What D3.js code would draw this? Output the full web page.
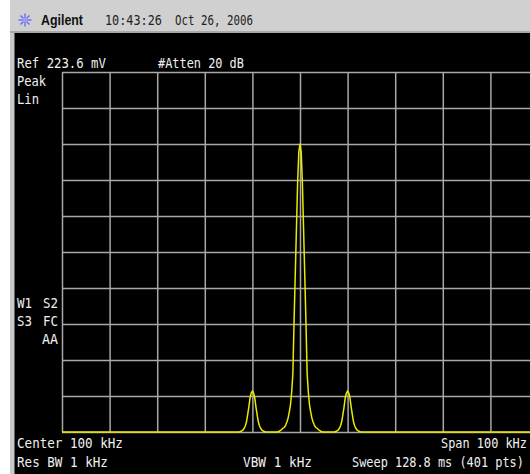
<!DOCTYPE html>
<html>
<head>
<meta charset="utf-8">
<script src="https://cdn.jsdelivr.net/npm/d3@7"></script>
<style>
  html, body { margin: 0; padding: 0; background: #000; overflow: hidden; }
  svg { display: block; }
  .mono { font-family: "DejaVu Sans Mono", "Liberation Mono", monospace; }
</style>
</head>
<body>
<svg id="screen" width="530" height="474"></svg>
<script>
// Spectrum analyzer settings
const refLevelMv = 223.6;
const startKHz = 50;
const stopKHz = 150;

// Graticule: 10 x 10 divisions
const freqGridKHz = [50, 60, 70, 80, 90, 100, 110, 120, 130, 140, 150];
const levelGridMv = [0, 22.36, 44.72, 67.08, 89.44, 111.8, 134.16, 156.52, 178.88, 201.24, 223.6];

// Swept trace (kHz, mV): carrier at 100 kHz with sidebands at 90 / 110 kHz
const sweepFreqKHz = [
  50, 87.25,
  87.5, 87.75, 88, 88.25, 88.5, 88.75, 89, 89.25, 89.5, 89.75, 90,
  90.25, 90.5, 90.75, 91, 91.25, 91.5, 91.75, 92, 92.25, 92.5, 92.75,
  95.25,
  95.5, 95.75, 96, 96.25, 96.5, 96.75, 97, 97.25, 97.5, 97.75, 98, 98.25, 98.5, 98.75, 99, 99.25, 99.5, 99.75, 100,
  100.25, 100.5, 100.75, 101, 101.25, 101.5, 101.75, 102, 102.25, 102.5, 102.75, 103, 103.25, 103.5, 103.75, 104, 104.25, 104.5, 104.75,
  107.25,
  107.5, 107.75, 108, 108.25, 108.5, 108.75, 109, 109.25, 109.5, 109.75, 110,
  110.25, 110.5, 110.75, 111, 111.25, 111.5, 111.75, 112, 112.25, 112.5, 112.75,
  150
];
const sweepLevelMv = [
  0, 0,
  0.3, 0.6, 1.2, 2.2, 3.7, 6.2, 10.6, 15.5, 21.1, 24.2, 25.5,
  24.2, 21.1, 15.5, 10.6, 6.2, 3.7, 2.2, 1.2, 0.6, 0.3, 0,
  0,
  0.3, 0.6, 1.2, 1.9, 2.5, 3.1, 4.3, 6.2, 8.7, 12.4, 16.8, 24.8, 36.0, 68.3, 97.5, 126.1, 154.7, 173.9, 178.9,
  173.9, 154.7, 126.1, 97.5, 68.3, 36.0, 24.8, 16.8, 12.4, 8.7, 6.2, 4.3, 3.1, 2.5, 1.9, 1.2, 0.6, 0.3, 0,
  0,
  0.3, 0.6, 1.2, 2.2, 3.7, 6.2, 10.6, 15.5, 21.1, 24.2, 25.5,
  24.2, 21.1, 15.5, 10.6, 6.2, 3.7, 2.2, 1.2, 0.6, 0.3, 0,
  0
];

// Annotation text
const headerBrand = "Agilent";
const headerTime = "10:43:26";
const headerDate = "Oct 26, 2006";
const refText = "Ref 223.6 mV";
const attenText = "#Atten 20 dB";
const detectorText = ["Peak", "Lin"];
const centerText = "Center 100 kHz";
const spanText = "Span 100 kHz";
const rbwText = "Res BW 1 kHz";
const vbwText = "VBW 1 kHz";
const sweepText = "Sweep 128.8 ms (401 pts)";

const svg = d3.select("#screen");

// Frame: white margin, grey side rail, grey title bar, black display
svg.append("rect").attr("x", 0).attr("y", 0).attr("width", 530).attr("height", 474).attr("fill", "#000");
svg.append("rect").attr("x", 0).attr("y", 0).attr("width", 10).attr("height", 474).attr("fill", "#fff");
svg.append("rect").attr("x", 10).attr("y", 0).attr("width", 4.5).attr("height", 474).attr("fill", "#c8c8c8");
svg.append("rect").attr("x", 10).attr("y", 0).attr("width", 520).attr("height", 33).attr("fill", "#d0d0d0");
svg.append("rect").attr("x", 10).attr("y", 31).attr("width", 520).attr("height", 2).attr("fill", "#a8a8a8");

// Narrow-font text: draw at natural size, then squeeze horizontally to the given width
function squeezed(txt, xPos, yPos, width, opts) {
  const o = opts || {};
  const g = svg.append("g");
  const t = g.append("text")
    .attr("font-family", o.family || "DejaVu Sans Mono, Liberation Mono, monospace")
    .attr("font-weight", o.weight || "normal")
    .attr("font-size", o.size || 14)
    .attr("fill", o.fill || "#f0f0f0")
    .text(txt);
  const natural = t.node().getComputedTextLength();
  const sx = width / natural;
  const left = o.anchor === "end" ? xPos - width : xPos;
  g.attr("transform", `translate(${left},${yPos}) scale(${sx},1)`);
  return g;
}

// Logo
const logo = svg.append("g").attr("transform", "translate(25,20)");
d3.range(8).forEach(i => {
  const a = i * Math.PI / 4;
  logo.append("line")
    .attr("x1", Math.cos(a) * 2).attr("y1", Math.sin(a) * 2)
    .attr("x2", Math.cos(a) * 6.5).attr("y2", Math.sin(a) * 6.5)
    .attr("stroke", "#6b6bf0").attr("stroke-width", 1.4);
});
logo.append("circle").attr("r", 2).attr("fill", "#9a9aff");

squeezed(headerBrand, 41, 25, 42, { family: "Liberation Sans, Arial, sans-serif", weight: "bold", fill: "#111" });
squeezed(headerTime, 105, 25, 57, { fill: "#222" });
squeezed(headerDate, 175, 25, 78, { fill: "#222" });

// Scales
const x = d3.scaleLinear().domain([startKHz, stopKHz]).range([62, 538]);
const y = d3.scaleLinear().domain([0, refLevelMv]).range([432, 72]);

// Graticule drawn with axes
const gridColor = "#a8a8a8";
const gX = svg.append("g").attr("transform", `translate(0,${y(0)})`)
  .call(d3.axisBottom(x).tickValues(freqGridKHz).tickSize(-(y(0) - y(refLevelMv))).tickFormat(""));
const gY = svg.append("g").attr("transform", `translate(${x(startKHz)},0)`)
  .call(d3.axisLeft(y).tickValues(levelGridMv).tickSize(-(x(stopKHz) - x(startKHz))).tickFormat(""));
[gX, gY].forEach(g => {
  g.select(".domain").remove();
  g.selectAll(".tick line").attr("stroke", gridColor).attr("stroke-width", 1.5);
});

// Trace
const tracePts = sweepFreqKHz.map((f, i) => [f, sweepLevelMv[i]]);
svg.append("path")
  .datum(tracePts)
  .attr("fill", "none")
  .attr("stroke", "#eaea00")
  .attr("stroke-width", 1.5)
  .attr("stroke-linejoin", "round")
  .attr("d", d3.line().x(d => x(d[0])).y(d => y(d[1])));

// Screen annotations
squeezed(refText, 17, 68, 89);
squeezed(attenText, 158, 68, 86);
squeezed(detectorText[0], 17, 86, 29);
squeezed(detectorText[1], 17, 104, 22);
squeezed("W1", 17, 308, 15);
squeezed("S2", 58, 308, 15, { anchor: "end" });
squeezed("S3", 17, 326, 15);
squeezed("FC", 58, 326, 15, { anchor: "end" });
squeezed("AA", 58, 344, 16, { anchor: "end" });
squeezed(centerText, 17, 448, 106);
squeezed(spanText, 441, 448, 86);
squeezed(rbwText, 17, 467, 91);
squeezed(vbwText, 243, 467, 69);
squeezed(sweepText, 352, 467, 172);
</script>
</body>
</html>
